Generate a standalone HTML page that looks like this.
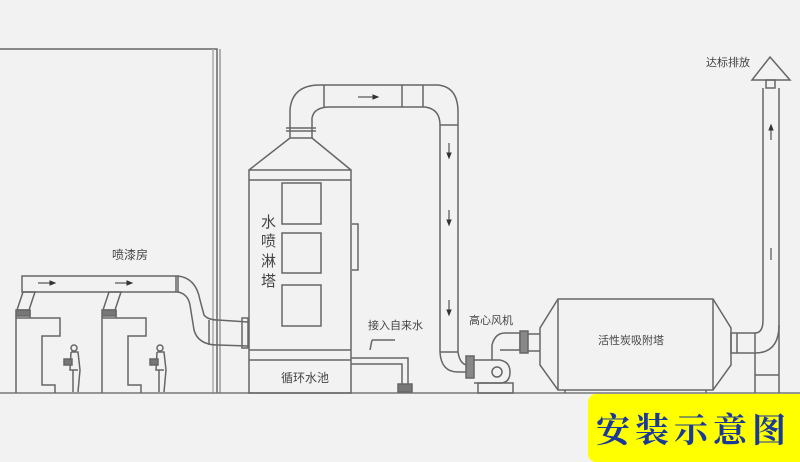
<!DOCTYPE html>
<html><head><meta charset="utf-8"><style>
html,body{margin:0;padding:0;background:#f2f2f2}
svg{display:block}
text{font-family:"Liberation Sans","Noto Sans CJK SC",sans-serif;fill:#444}
</style></head><body>
<svg width="800" height="462" viewBox="0 0 800 462" xmlns="http://www.w3.org/2000/svg">
<rect width="800" height="462" fill="#f2f2f2"/>
<g fill="none" stroke="#666" stroke-width="1.5">
<!-- left frame -->
<polyline points="0,49 217,49 217,393"/>
<line x1="220" y1="49" x2="220" y2="393" stroke="#999"/>
<line x1="213" y1="49" x2="213" y2="393" stroke="#aaa"/>
<!-- ground -->
<line x1="0" y1="393" x2="800" y2="393" stroke="#777"/>
<!-- booth duct -->
<rect x="22" y="276" width="156" height="16"/>
<path d="M178,276 Q196,278 200,300 L204,315 Q208,320 218,320 L248,322"/>
<path d="M178,292 Q188,294 190,305 L194,330 Q198,345 218,345 L248,346"/>
<line x1="176" y1="276" x2="176" y2="292"/>
<line x1="209" y1="320" x2="209" y2="345"/>
<rect x="242" y="318" width="6" height="30"/>
<!-- booths -->
<g id="b1">
<polygon points="23,292 35,292 29,310 17,310"/>
<rect x="16" y="310" width="14" height="6" fill="#777"/>
<polyline points="16,316 16,393"/>
<polyline points="16,318 60,318 60,336 42,336 42,385 55,385 55,393"/>
<polyline points="30,310 30,318"/>
<!-- person -->
<circle cx="74" cy="348" r="3" fill="#f2f2f2"/>
<path d="M71,352 L78,352 L80,370 L78,392 M73,370 L73,392 M71,352 L70,370 L78,370"/>
<rect x="64" y="359" width="8" height="6" fill="#777"/>
</g>
<use href="#b1" transform="translate(86,0)"/>
<!-- tower -->
<rect x="249" y="170" width="102" height="223"/>
<line x1="249" y1="180" x2="351" y2="180"/>
<line x1="249" y1="350" x2="351" y2="350"/>
<line x1="249" y1="360" x2="351" y2="360"/>
<polyline points="249,170 290,138 312,138 351,170"/>
<rect x="282" y="183" width="39" height="41"/>
<rect x="282" y="233" width="39" height="40"/>
<rect x="282" y="285" width="39" height="41"/>
<line x1="286" y1="128" x2="316" y2="128"/>
<line x1="286" y1="131" x2="316" y2="131"/>
<!-- duct over -->
<path d="M290,138 L290,110 Q292,85 320,85 L438,85 Q458,87 458,112 L458,350 L458,352"/>
<path d="M312,138 L312,118 Q314,107 330,107 L425,107 Q440,109 440,125 L440,352"/>
<line x1="324" y1="85" x2="324" y2="107"/>
<line x1="402" y1="85" x2="402" y2="107"/>
<line x1="423" y1="85" x2="423" y2="107"/>
<line x1="440" y1="125" x2="458" y2="125"/>
<path d="M440,352 Q441,372 458,372 L468,372"/>
<path d="M458,352 Q460,365 468,365" />
<line x1="440" y1="352" x2="458" y2="352"/>
<!-- water pipe -->
<polyline points="352,224 358,224 358,270 352,270"/>
<polyline points="351,364 402,364 402,385"/>
<polyline points="351,358 408,358 408,385"/>
<rect x="398" y="384" width="14" height="8" fill="#777"/>
<line x1="372" y1="340" x2="395" y2="340"/>
<line x1="372" y1="340" x2="370" y2="350"/>
<!-- fan -->
<rect x="466" y="356" width="8" height="22" fill="#888"/>
<path d="M474,360 L500,360 Q510,362 510,372 Q510,383 500,383 L474,383"/>
<circle cx="497" cy="372" r="5"/>
<path d="M492,360 L492,345 Q495,333 505,333 L520,333 L520,350 L500,350"/>
<rect x="520" y="331" width="8" height="22" fill="#888"/>
<line x1="528" y1="334" x2="540" y2="334"/>
<line x1="528" y1="351" x2="540" y2="351"/>
<rect x="478" y="383" width="35" height="10"/>
<!-- adsorber -->
<polygon points="558,299 713,299 731,328 731,365 713,390 558,390 540,365 540,328"/>
<line x1="558" y1="299" x2="558" y2="390"/>
<line x1="713" y1="299" x2="713" y2="390"/>
<line x1="565" y1="390" x2="565" y2="393"/>
<line x1="706" y1="390" x2="706" y2="393"/>
<!-- outlet & stack -->
<rect x="731" y="333" width="24" height="20"/>
<line x1="737" y1="333" x2="737" y2="353"/>
<path d="M755,333 Q763,333 763,320 L763,88"/>
<path d="M755,353 Q779,353 779,325 L779,88"/>
<line x1="755" y1="353" x2="755" y2="393"/>
<line x1="779" y1="325" x2="779" y2="393"/>
<line x1="755" y1="375" x2="779" y2="375"/>
<rect x="766" y="80" width="9" height="8"/>
<polygon points="770,57 790,80 752,80"/>
</g>
<!-- arrows -->
<g fill="#333" stroke="#333">
<line x1="38" y1="283" x2="50" y2="283"/><polygon points="50,281 55,283 50,285"/>
<line x1="115" y1="283" x2="127" y2="283"/><polygon points="127,281 132,283 127,285"/>
<line x1="358" y1="97" x2="373" y2="97"/><polygon points="373,95 378,97 373,99"/>
<line x1="449" y1="143" x2="449" y2="153"/><polygon points="447,153 449,158 451,153"/>
<line x1="449" y1="210" x2="449" y2="220"/><polygon points="447,220 449,225 451,220"/>
<line x1="449" y1="300" x2="449" y2="310"/><polygon points="447,310 449,315 451,310"/>
<line x1="771" y1="140" x2="771" y2="128"/><polygon points="769,130 771,125 773,130"/>
<line x1="771" y1="260" x2="771" y2="248"/>
</g>
<!-- labels -->
<g font-size="12">
<text x="112" y="259">喷漆房</text>
<text x="368" y="329" font-size="11">接入自来水</text>
<text x="469" y="324" font-size="11">高心风机</text>
<text x="598" y="344" font-size="11">活性炭吸附塔</text>
<text x="706" y="66" font-size="11">达标排放</text>
<text x="281" y="382" font-size="12">循环水池</text>
<text x="261" y="227" font-size="15">水</text>
<text x="261" y="246" font-size="15">喷</text>
<text x="261" y="266" font-size="15">淋</text>
<text x="261" y="286" font-size="15">塔</text>
</g>
<!-- yellow badge -->
<rect x="588" y="394" width="230" height="68" rx="8" fill="#ffff00"/>
<text x="596" y="442" font-size="34" font-weight="bold" style="fill:#1a3a9a;font-family:'Liberation Serif','Noto Serif CJK SC',serif" letter-spacing="5">安装示意图</text>
</svg>
</body></html>
